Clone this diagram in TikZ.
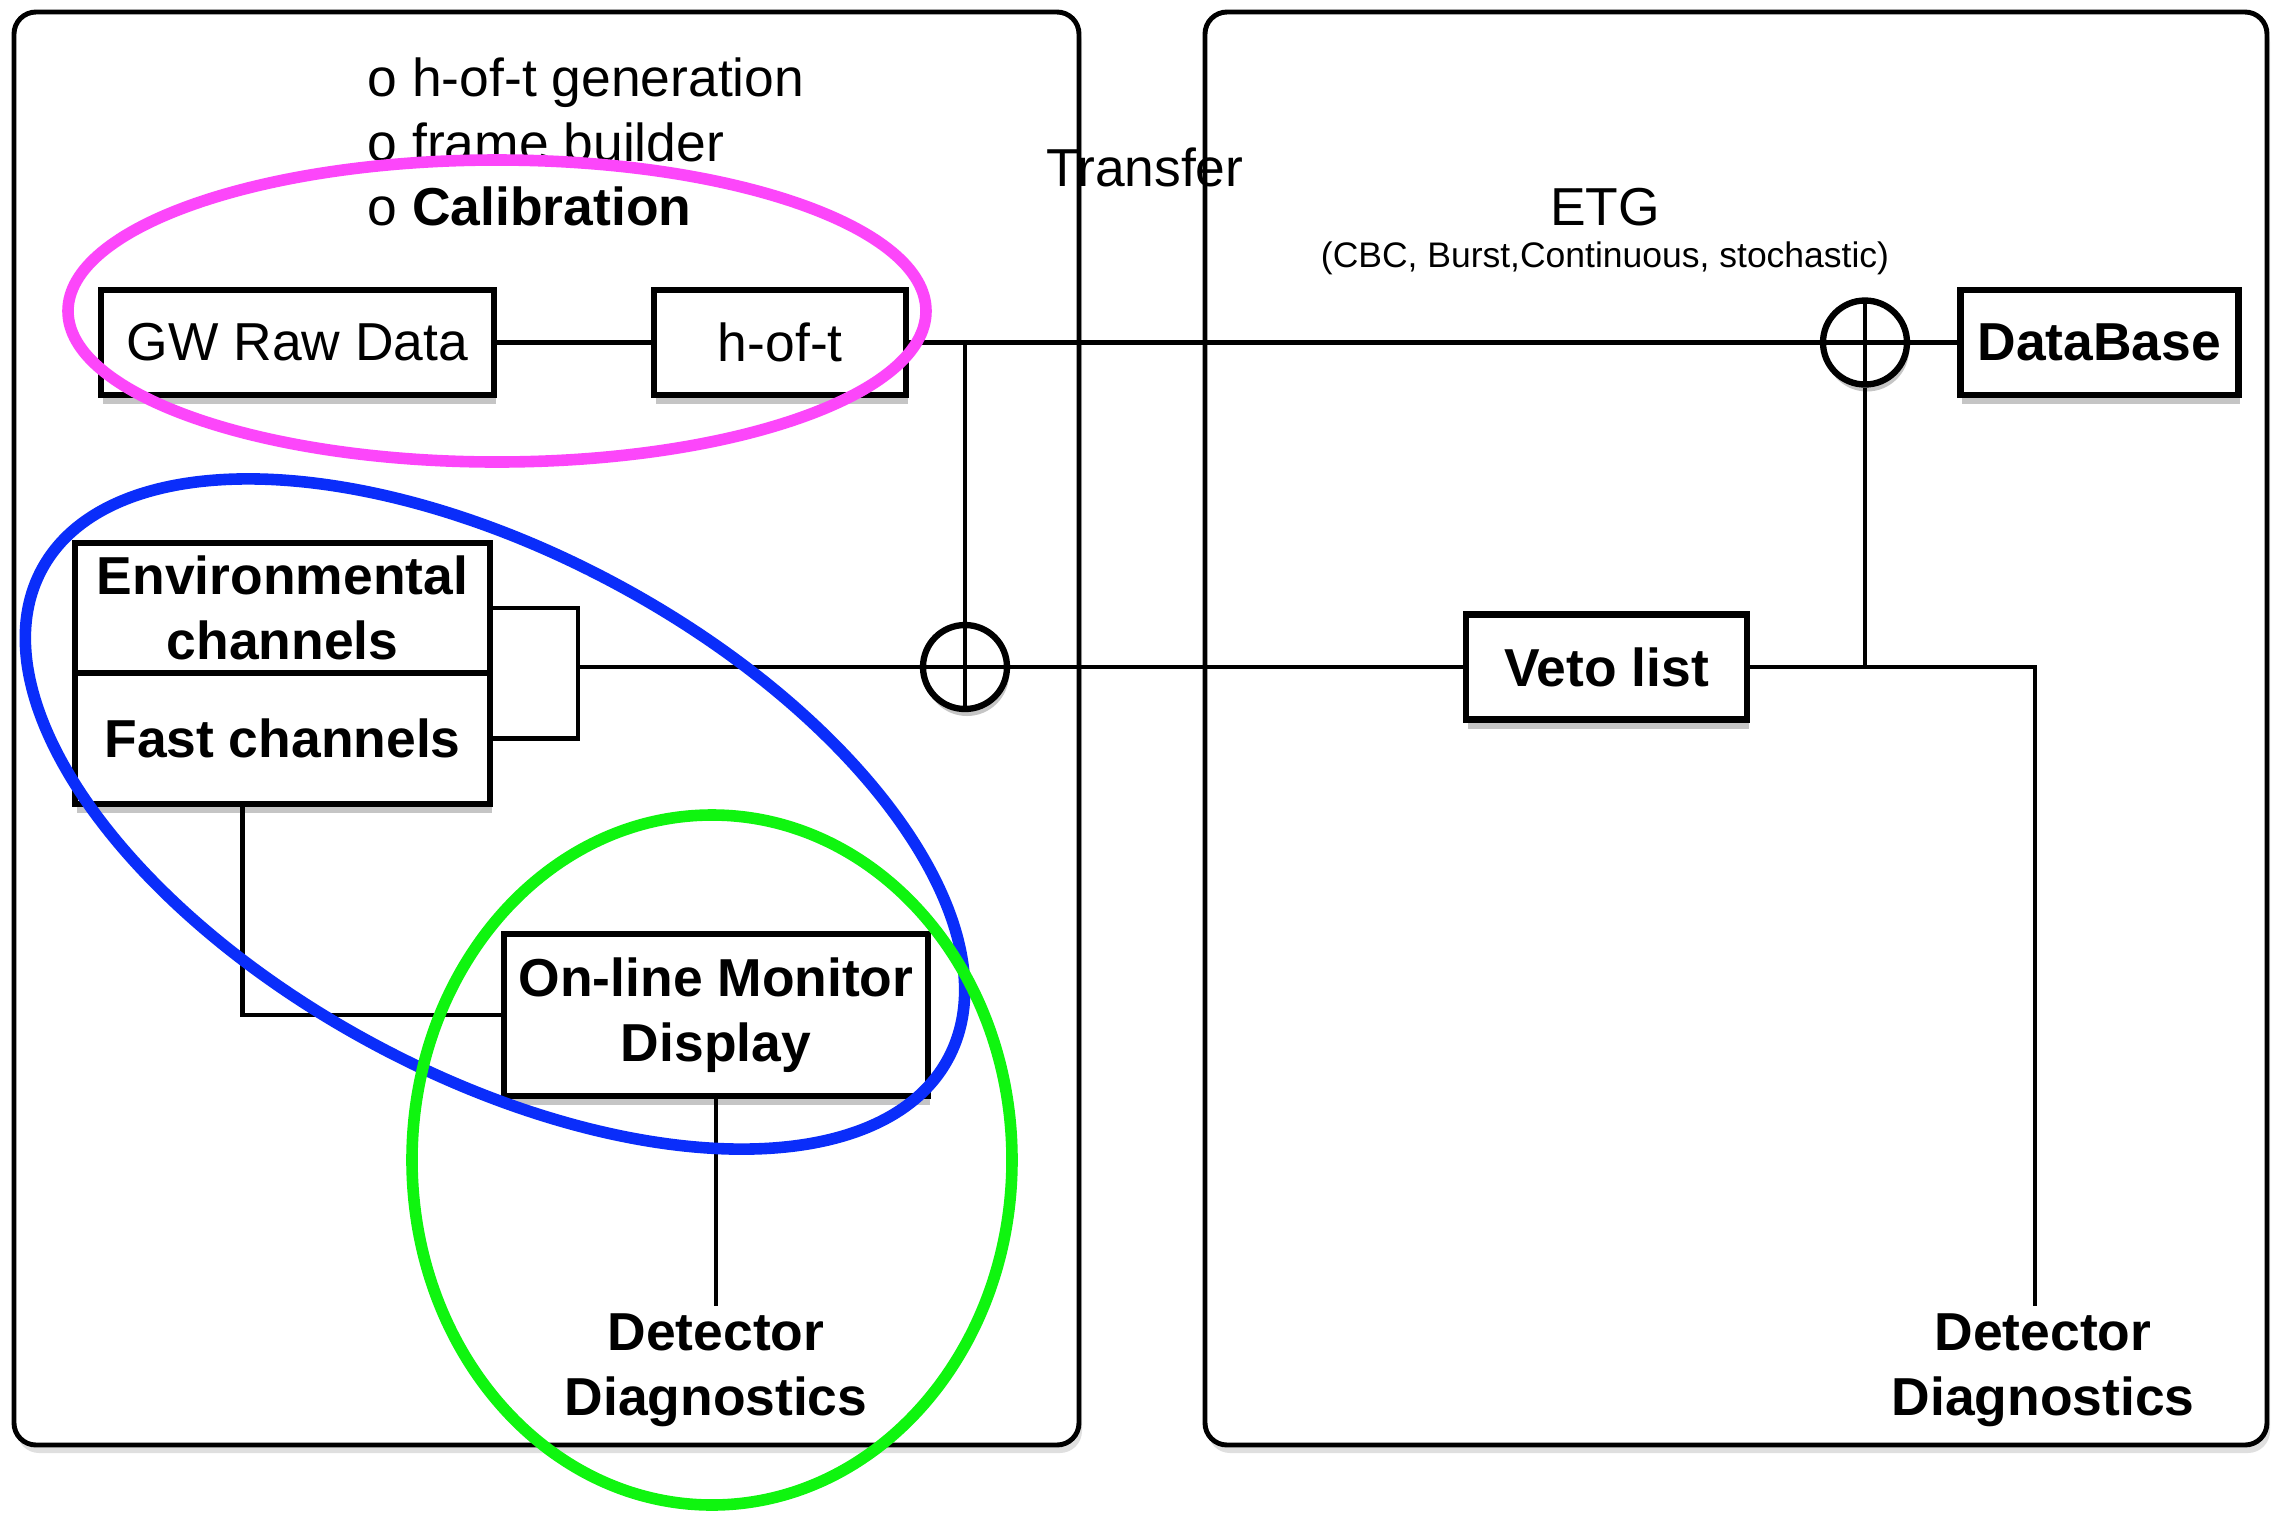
\documentclass[tikz,border=0pt]{standalone}
\usepackage{fontspec}
\setmainfont{Liberation Sans}
\usetikzlibrary{shapes,positioning,shadows}

\definecolor{ringpink}{RGB}{252,70,250}
\definecolor{ringblue}{RGB}{10,45,250}
\definecolor{ringgreen}{RGB}{15,245,15}

\begin{document}
\begin{tikzpicture}[
        txt/.style    = {font=\fontsize{15.2}{18.4}\selectfont},
        small/.style  = {font=\fontsize{10.1}{12}\selectfont},
        panel/.style  = {draw, line width=1.4pt, rounded corners=0.22cm, fill=white, drop shadow={shadow xshift=0.03cm, shadow yshift=-0.08cm, opacity=0.25}},
        basic/.style  = {draw, line width=1.8pt, rectangle, fill=white, inner sep=0pt, txt, align=center, drop shadow={shadow xshift=0.02cm, shadow yshift=-0.09cm, opacity=0.45}},
        bold/.style   = {basic, font=\fontsize{15.2}{18.4}\selectfont\bfseries},
        label/.style  = {txt, inner sep=2pt, align=center},
        oplus/.style  = {circle, draw, line width=1.8pt, fill=white, minimum size=0.84cm, inner sep=0pt, drop shadow={shadow xshift=0.02cm, shadow yshift=-0.07cm, opacity=0.45},
                         path picture={\draw[line width=1.4pt] (path picture bounding box.north) -- (path picture bounding box.south)
                                       (path picture bounding box.west) -- (path picture bounding box.east);}},
        link/.style   = {line width=1.3pt},
        ring/.style   = {line width=3.3pt}]

        \useasboundingbox (0,0) rectangle (22.71,-15.12);

        % the two rounded panels
        \node[panel, minimum width=10.65cm, minimum height=14.33cm] (lpanel) at (5.465,-7.285) {};
        \node[panel, minimum width=10.62cm, minimum height=14.33cm] (rpanel) at (17.36,-7.285) {};

        % texts on top of the panels
        \node[label, anchor=west, align=left] (tasks) at (3.6,-1.42) {o h-of-t generation\\o frame builder\\o \textbf{Calibration}};
        \node[label] (transfer) at (11.45,-1.67) {Transfer};
        \node[label] (etg) at (16.05,-2.07) {ETG};
        \node[small] (etgsub) at (16.05,-2.58) {(CBC, Burst,Continuous, stochastic)};

        % first row: raw data, h-of-t and the database
        \node[basic, minimum width=3.93cm, minimum height=1.05cm] (gw) at (2.975,-3.425) {GW Raw Data};
        \node[basic, minimum width=2.52cm, minimum height=1.05cm, right=1.54cm of gw] (hoft) {h-of-t};
        \node[oplus] (sumB) at (18.65,-3.425) {};
        \node[bold, minimum width=2.78cm, minimum height=1.05cm, right=0.47cm of sumB] (db) {DataBase};

        % channels block
        \node[bold, minimum width=4.15cm, minimum height=1.30cm] (env) at (2.825,-6.08) {Environmental\\channels};
        \node[bold, minimum width=4.15cm, minimum height=1.31cm, below=-1.8pt of env] (fast) {Fast channels};
        \node[oplus] (sumA) at (9.65,-6.67) {};
        \node[bold, minimum width=2.81cm, minimum height=1.05cm] (veto) at (16.065,-6.67) {Veto list};

        % monitor and diagnostics
        \node[bold, minimum width=4.24cm, minimum height=1.62cm] (omd) at (7.16,-10.15) {On-line Monitor\\Display};
        \node[label, font=\fontsize{15.2}{18.4}\selectfont\bfseries] (diagL) at (7.16,-13.70) {Detector\\Diagnostics};
        \node[label, font=\fontsize{15.2}{18.4}\selectfont\bfseries] (diagR) at (20.43,-13.70) {Detector\\Diagnostics};

        \coordinate (brk) at (5.78,-6.67);
        \coordinate (jn) at (sumB |- veto);

        % connectors
        \draw[link] (gw.east) -- (hoft.west);
        \draw[link] (hoft.east) -- (sumB.west);
        \draw[link] (sumB.east) -- (db.west);
        \draw[link] (sumA.north) -- (sumA.north |- hoft.east);
        \draw[link] (env.east) -| (brk) |- (fast.east);
        \draw[link] (brk) -- (sumA.west);
        \draw[link] (sumA.east) -- (veto.west);
        \draw[link] (sumB.south) -- (jn);
        \draw[link] (veto.east) -- (jn) -| ([xshift=-0.08cm]diagR.north);
        \draw[link] ([xshift=-0.4cm]fast.south) |- (omd.west);
        \draw[link] (omd.south) -- (diagL.north);

        % coloured rings
        \draw[ring, ringpink] (4.97,-3.11) ellipse [x radius=4.29, y radius=1.51];
        \draw[ring, ringblue, shift={(4.95,-8.14)}, rotate=-28.4] (0,0) ellipse [x radius=5.15, y radius=2.6];
        \draw[ring, ringgreen] (7.12,-11.60) ellipse [x radius=3.0, y radius=3.45];

\end{tikzpicture}
\end{document}
